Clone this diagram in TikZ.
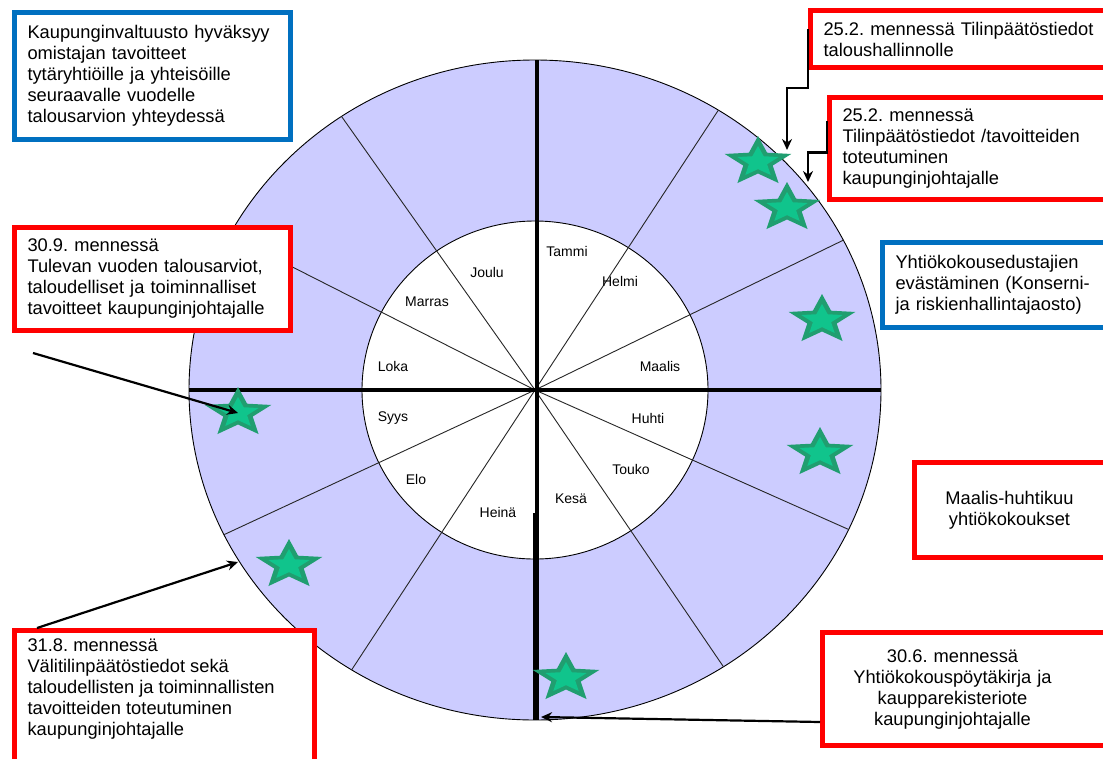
\documentclass[tikz,border=0pt]{standalone}
\usepackage{fontspec}
\setmainfont{Liberation Sans}
\frenchspacing
\usetikzlibrary{arrows.meta}
\definecolor{rengas}{RGB}{204,204,255}
\definecolor{punainen}{RGB}{255,0,0}
\definecolor{sininen}{RGB}{0,112,192}
\definecolor{tahtitumma}{RGB}{32,158,112}
\definecolor{tahtivaalea}{RGB}{16,196,140}
\tikzstyle{laatikko} = [draw=punainen, line width=5pt, fill=white, rectangle, anchor=north west, align=left, inner xsep=13pt, inner ysep=8pt, font=\fontsize{18.3}{21}\selectfont]
\tikzstyle{sinilaatikko} = [laatikko, draw=sininen]
\tikzstyle{kuukausi} = [font=\fontsize{14}{16}\selectfont, inner sep=1pt]
\tikzstyle{nuoli} = [draw=black, line width=2.2pt, -{Stealth[length=11pt,width=10pt]}]
\tikzstyle{jako} = [draw=black!85, line width=0.9pt]
\tikzstyle{akseli} = [draw=black, line width=4pt]

\begin{document}
\begin{tikzpicture}[x=1pt,y=-1pt]
	\useasboundingbox (0,0) rectangle (1103,758);
	\clip (0,0) rectangle (1103,758);
	\coordinate (C) at (535,390);
	\filldraw[fill=rengas, draw=black, line width=0.9pt] (C) ellipse [x radius=346, y radius=330];
	\filldraw[fill=white, draw=black, line width=0.9pt] (C) ellipse [x radius=173, y radius=169];
	\foreach \a in {302,333,25,57,236,208,154,122}
		\draw[jako] (C) -- ++(\a:346 and 330);
	\draw[akseli] (189,390) -- (881,390);
	\draw[akseli] (537,60) -- (537,513);
	\draw[akseli, line width=6pt] (536,513) -- (536,720);

	\foreach \nimi/\x/\y [count=\i] in {Tammi/567/251, Helmi/620/281, Maalis/660/366, Huhti/648/418, Touko/631/469, Kesä/571/499, Heinä/498/512, Elo/416/479, Syys/393/418, Loka/393/366, Marras/427/302, Joulu/487/272}
		\node[kuukausi] (kk\i) at (\x,\y) {\nimi};

	\foreach \x/\y [count=\i] in {758/162, 787/208, 822/320, 820/453, 238/413, 289/565, 566/678}
		\coordinate (t\i) at (\x,\y);
	\foreach \i in {1,...,7} {
		\begin{scope}[shift={(t\i)}]
			\fill[tahtitumma] (-90:35 and 26) \foreach \a in {-90,-18,54,126,198} {-- (\a+36:15.5 and 11.5) -- (\a+72:35 and 26)} -- cycle;
			\fill[tahtivaalea, scale=0.62] (-90:35 and 26) \foreach \a in {-90,-18,54,126,198} {-- (\a+36:15.5 and 11.5) -- (\a+72:35 and 26)} -- cycle;
		\end{scope}
	}

	\node[sinilaatikko, text width=250pt, minimum height=127pt] (valtuusto) at (12,10) {Kaupunginvaltuusto hyväksyy\\omistajan tavoitteet\\tytäryhtiöille ja yhteisöille\\seuraavalle vuodelle\\talousarvion yhteydessä};
	\node[laatikko, text width=300pt, minimum height=57pt] (tp1) at (808,8) {25.2. mennessä Tilinpäätöstiedot\\taloushallinnolle};
	\node[laatikko, text width=280pt, minimum height=102pt] (tp2) at (827,95) {25.2. mennessä\\Tilinpäätöstiedot /tavoitteiden\\toteutuminen\\kaupunginjohtajalle};
	\node[laatikko, text width=250pt, minimum height=103pt] (tav) at (12,225) {30.9. mennessä\\Tulevan vuoden talousarviot,\\taloudelliset ja toiminnalliset\\tavoitteet kaupunginjohtajalle};
	\node[sinilaatikko, text width=250pt, minimum height=85pt] (evast) at (880,240) {Yhtiökokousedustajien\\evästäminen (Konserni-\\ja riskienhallintajaosto)};
	\node[laatikko, text width=200pt, minimum height=95pt] (yko) at (912,460) {\parbox{164pt}{\centering Maalis-huhtikuu\\yhtiökokoukset}};
	\node[laatikko] (vali) at (12,628) {\parbox[t][125pt][t]{274pt}{31.8. mennessä\\Välitilinpäätöstiedot sekä\\taloudellisten ja toiminnallisten\\tavoitteiden toteutuminen\\kaupunginjohtajalle}};
	\node[laatikko, text width=280pt, minimum height=113pt] (yk) at (820,630) {\parbox{234pt}{\centering 30.6. mennessä\\Yhtiökokouspöytäkirja ja\\kaupparekisteriote\\kaupunginjohtajalle}};

	\coordinate (k1) at (787,150);
	\coordinate (k2) at (808,182);
	\coordinate (a1) at (33,353);
	\coordinate (k3) at (238,562);
	\coordinate (k4) at (541,717);
	\draw[nuoli] ([yshift=10pt]tp1.west) -- ++(0,59) -| (k1);
	\draw[nuoli] ([yshift=28pt]tp2.west) -- ++(0,32) -| (k2);
	\draw[nuoli] (a1) -- (t5);
	\draw[nuoli] ([xshift=25pt]vali.north west) -- (k3);
	\draw[nuoli] ([yshift=-33pt]yk.west) -- (k4);
\end{tikzpicture}
\end{document}
